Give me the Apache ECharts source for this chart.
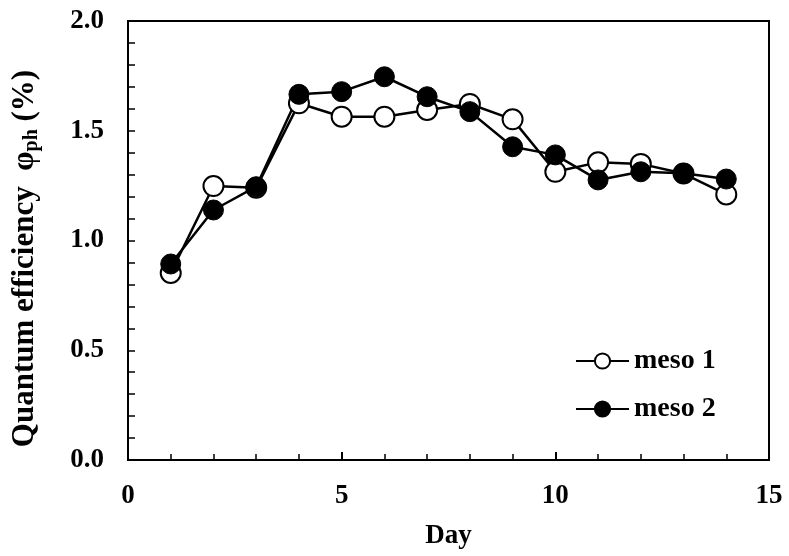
<!DOCTYPE html>
<html>
<head>
<meta charset="utf-8">
<script src="https://cdn.jsdelivr.net/npm/echarts@6/dist/echarts.min.js"></script>
<style>
  html, body { margin: 0; padding: 0; background: #fff; }
  #chart { width: 789px; height: 556px; }
</style>
</head>
<body>
<div id="chart"></div>
<script>
// days and quantum efficiency (%)
const days = [1, 2, 3, 4, 5, 6, 7, 8, 9, 10, 11, 12, 13, 14];
const meso1 = [0.852, 1.248, 1.24, 1.625, 1.564, 1.564, 1.595, 1.622, 1.552, 1.313, 1.356, 1.349, 1.305, 1.21];
const meso2 = [0.893, 1.139, 1.245, 1.666, 1.678, 1.746, 1.655, 1.587, 1.427, 1.39, 1.276, 1.313, 1.306, 1.28];

const font = 'Liberation Serif';

const chart = echarts.init(document.getElementById('chart'));

const pairs = (ys) => days.map((d, i) => [d, ys[i]]);

chart.setOption({
  animation: false,
  textStyle: { fontFamily: font },
  grid: {
    left: 128, right: 20, top: 21, bottom: 96,
    show: true, borderColor: '#000', borderWidth: 2
  },
  legend: {
    orient: 'vertical',
    left: 570, top: 342,
    itemWidth: 53, itemHeight: 19, itemGap: 20,
    textStyle: { fontFamily: font, fontWeight: 'bold', fontSize: 28, color: '#000' },
    data: ['meso 1', 'meso 2']
  },
  xAxis: {
    type: 'value',
    min: 0, max: 15, interval: 5,
    name: 'Day',
    nameLocation: 'middle',
    nameGap: 63,
    nameTextStyle: { fontFamily: font, fontWeight: 'bold', fontSize: 27, color: '#000' },
    axisLine: { lineStyle: { color: '#000', width: 2 } },
    axisTick: { inside: true, length: 8, lineStyle: { color: '#000', width: 2 } },
    minorTick: { show: true, splitNumber: 5, length: 6, lineStyle: { color: '#000', width: 1.5 } },
    splitLine: { show: false },
    axisLabel: { margin: 23, fontFamily: font, fontWeight: 'bold', fontSize: 27, color: '#000' }
  },
  yAxis: {
    type: 'value',
    min: 0, max: 2, interval: 0.5,
    name: 'Quantum efficiency  φ{sub|ph} (%)',
    nameLocation: 'middle',
    nameGap: 86,
    nameTextStyle: {
      fontFamily: font, fontWeight: 'bold', fontSize: 31, color: '#000',
      padding: [0, 36, 0, 0],
      rich: {
        sub: { fontFamily: font, fontWeight: 'bold', fontSize: 20, color: '#000', verticalAlign: 'bottom', padding: [14, 0, 0, 0] }
      }
    },
    axisLine: { lineStyle: { color: '#000', width: 2 } },
    axisTick: { inside: true, length: 7, lineStyle: { color: '#000', width: 1.5 } },
    minorTick: { show: true, splitNumber: 5, length: 7, lineStyle: { color: '#000', width: 1.5 } },
    splitLine: { show: false },
    axisLabel: {
      margin: 24, fontFamily: font, fontWeight: 'bold', fontSize: 27, color: '#000',
      formatter: (v) => v.toFixed(1)
    }
  },
  series: [
    {
      name: 'meso 1',
      type: 'line',
      data: pairs(meso1),
      symbol: 'circle',
      symbolSize: 20,
      lineStyle: { color: '#000', width: 2.5 },
      itemStyle: { color: '#fff', borderColor: '#000', borderWidth: 2 }
    },
    {
      name: 'meso 2',
      type: 'line',
      data: pairs(meso2),
      symbol: 'circle',
      symbolSize: 20,
      lineStyle: { color: '#000', width: 2.5 },
      itemStyle: { color: '#000', borderColor: '#000', borderWidth: 1 }
    }
  ]
});
</script>
</body>
</html>
